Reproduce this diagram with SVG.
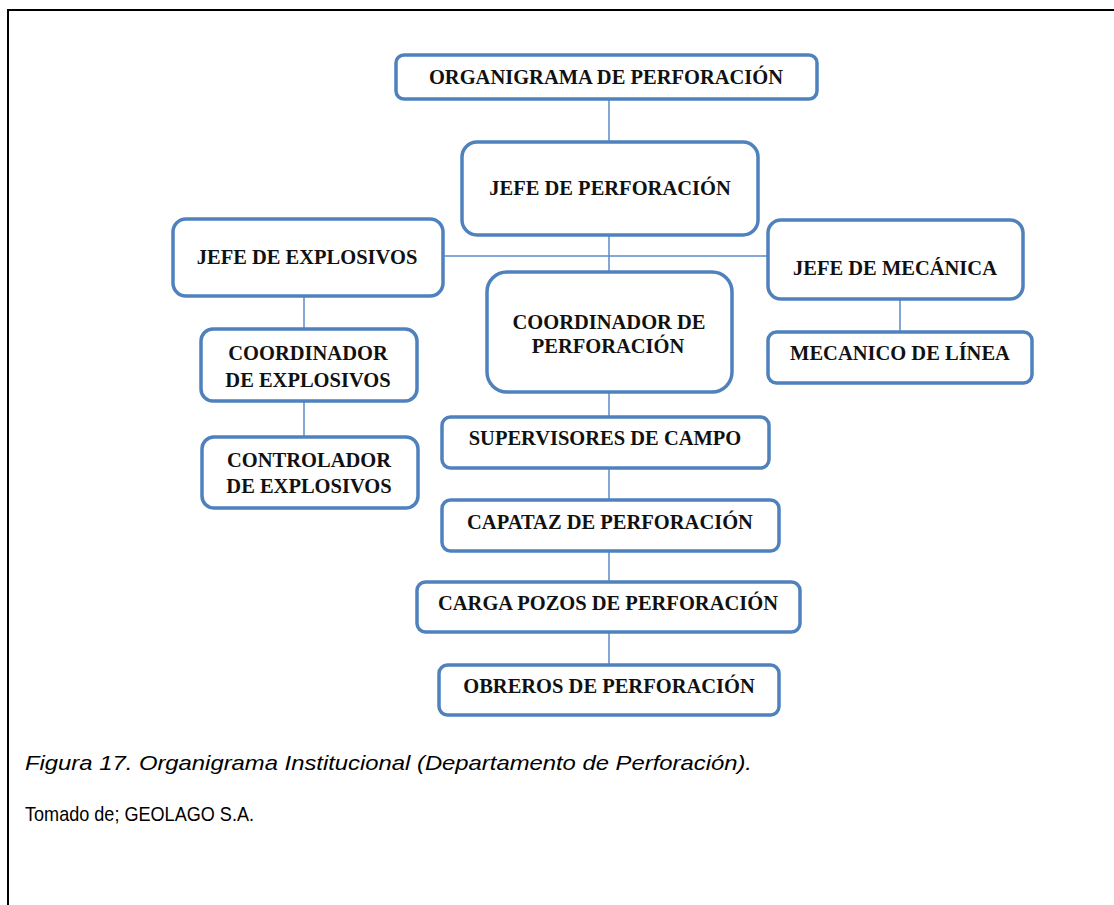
<svg xmlns="http://www.w3.org/2000/svg" width="1114" height="905" viewBox="0 0 1114 905">
  <style>
    .box { fill: #ffffff; stroke: #4f81bd; stroke-width: 3.5; }
    .lbl { font-family: "Liberation Serif", "Times New Roman", serif; font-weight: bold; font-size: 20.5px; fill: #111111; text-anchor: middle; }
    .wire { stroke: #5b8bc9; stroke-width: 1.5; fill: none; }
    .cap { font-family: "Liberation Sans", Arial, sans-serif; font-size: 21px; fill: #000000; }
  </style>
  <rect width="1114" height="905" fill="#ffffff"/>
  <!-- page frame -->
  <path d="M8 905 V10 H1114" fill="none" stroke="#000000" stroke-width="2"/>

  <!-- connectors -->
  <g id="connectors">
    <line class="wire" x1="609" y1="99" x2="609" y2="142"/>
    <line class="wire" x1="609" y1="235" x2="609" y2="272"/>
    <line class="wire" x1="443" y1="256" x2="768" y2="256"/>
    <line class="wire" x1="304" y1="296" x2="304" y2="329"/>
    <line class="wire" x1="304" y1="401" x2="304" y2="437"/>
    <line class="wire" x1="900" y1="299" x2="900" y2="332"/>
    <line class="wire" x1="609" y1="392" x2="609" y2="417"/>
    <line class="wire" x1="609" y1="468" x2="609" y2="500"/>
    <line class="wire" x1="609" y1="551" x2="609" y2="582"/>
    <line class="wire" x1="609" y1="632" x2="609" y2="665"/>
  </g>

  <g id="organigrama">
    <rect class="box" x="396" y="55" width="421" height="44" rx="8"/>
    <text class="lbl" x="606" y="84">ORGANIGRAMA DE PERFORACIÓN</text>
  </g>
  <g id="jefe-perforacion">
    <rect class="box" x="462" y="142" width="296" height="93" rx="15"/>
    <text class="lbl" x="610" y="195">JEFE DE PERFORACIÓN</text>
  </g>
  <g id="jefe-explosivos">
    <rect class="box" x="173" y="219" width="270" height="77" rx="13"/>
    <text class="lbl" x="307" y="264">JEFE DE EXPLOSIVOS</text>
  </g>
  <g id="coordinador-explosivos">
    <rect class="box" x="201" y="329" width="216" height="72" rx="12"/>
    <text class="lbl" x="308" y="360">COORDINADOR</text>
    <text class="lbl" x="308" y="387">DE EXPLOSIVOS</text>
  </g>
  <g id="controlador-explosivos">
    <rect class="box" x="202" y="437" width="216" height="71" rx="12"/>
    <text class="lbl" x="309" y="467">CONTROLADOR</text>
    <text class="lbl" x="309" y="493">DE EXPLOSIVOS</text>
  </g>
  <g id="coordinador-perforacion">
    <rect class="box" x="487" y="272" width="245" height="120" rx="20"/>
    <text class="lbl" x="609" y="329">COORDINADOR DE</text>
    <text class="lbl" x="608" y="353">PERFORACIÓN</text>
  </g>
  <g id="jefe-mecanica">
    <rect class="box" x="768" y="220" width="255" height="79" rx="13"/>
    <text class="lbl" x="895" y="275">JEFE DE MECÁNICA</text>
  </g>
  <g id="mecanico-linea">
    <rect class="box" x="768" y="332" width="264" height="51" rx="8.5"/>
    <text class="lbl" x="900" y="360">MECANICO DE LÍNEA</text>
  </g>
  <g id="supervisores">
    <rect class="box" x="442" y="417" width="327" height="51" rx="8.5"/>
    <text class="lbl" x="605" y="445">SUPERVISORES DE CAMPO</text>
  </g>
  <g id="capataz">
    <rect class="box" x="442" y="500" width="337" height="51" rx="8.5"/>
    <text class="lbl" x="610" y="529">CAPATAZ DE PERFORACIÓN</text>
  </g>
  <g id="carga-pozos">
    <rect class="box" x="417" y="582" width="383" height="50" rx="8.5"/>
    <text class="lbl" x="608" y="610">CARGA POZOS DE PERFORACIÓN</text>
  </g>
  <g id="obreros">
    <rect class="box" x="439" y="665" width="340" height="50" rx="8.5"/>
    <text class="lbl" x="609" y="693">OBREROS DE PERFORACIÓN</text>
  </g>

  <!-- figure caption and source line -->
  <text class="cap" x="25" y="770" font-style="italic" textLength="727" lengthAdjust="spacingAndGlyphs">Figura 17. Organigrama Institucional (Departamento de Perforación).</text>
  <text class="cap" x="25" y="821" textLength="229" lengthAdjust="spacingAndGlyphs">Tomado de; GEOLAGO S.A.</text>
</svg>
